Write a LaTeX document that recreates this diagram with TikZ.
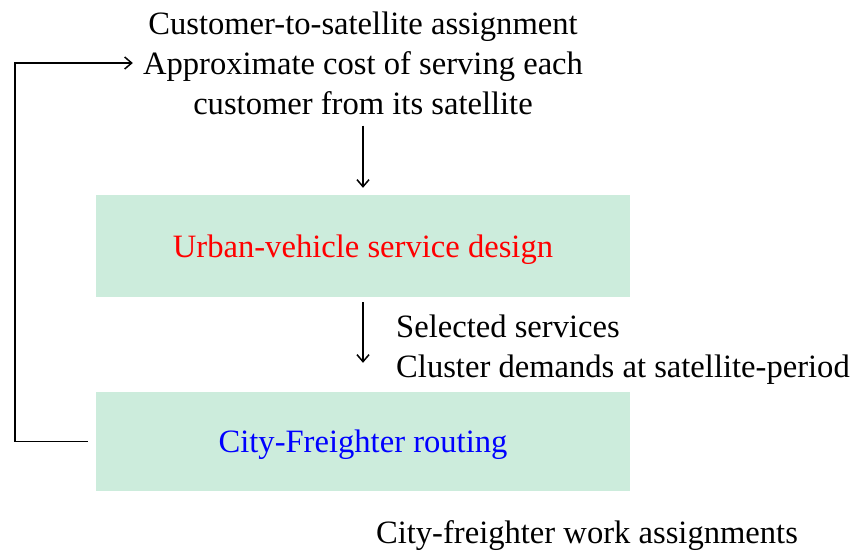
\documentclass[tikz,border=0pt]{standalone}
\usepackage{fontspec}
\setmainfont{Liberation Serif}
\usetikzlibrary{arrows.meta,positioning}
\definecolor{boxgreen}{RGB}{204,236,220}
\begin{document}
\begin{tikzpicture}[x=1pt,y=-1pt,
    txt/.style={font=\fontsize{32.6}{40}\selectfont, inner sep=0pt},
    box/.style={txt, fill=boxgreen, minimum width=534pt, text depth=0pt},
    arr/.style={line width=1.5pt, -{Straight Barb[length=7pt,width=12pt]}}]
  \useasboundingbox (0,0) rectangle (855,550);
  \node[txt, align=center] (info) at (363,63)
    {Customer-to-satellite assignment\\Approximate cost of serving each\\customer from its satellite};
  \node[box, minimum height=102pt, text=red] (design) at (363,246) {Urban-vehicle service design};
  \node[box, minimum height=99pt, text=blue] (route) at (363,441.5) {City-Freighter routing};
  \node[txt, align=left, anchor=west] (services) at (396,350)
    {Selected services\\Cluster demands at satellite-period};
  \node[txt, anchor=base] (work) at (587,543) {City-freighter work assignments};
  % arrows between the stages
  \draw[arr, shorten <=11pt, shorten >=7pt] (info) -- (design);
  \draw[arr, shorten <=5pt, shorten >=29pt] (design) -- (route);
  % feedback loop
  \draw[arr] ([xshift=-8pt]route.west) -- ++(-73,0) |- ([xshift=-10pt]info.west);
\end{tikzpicture}
\end{document}
